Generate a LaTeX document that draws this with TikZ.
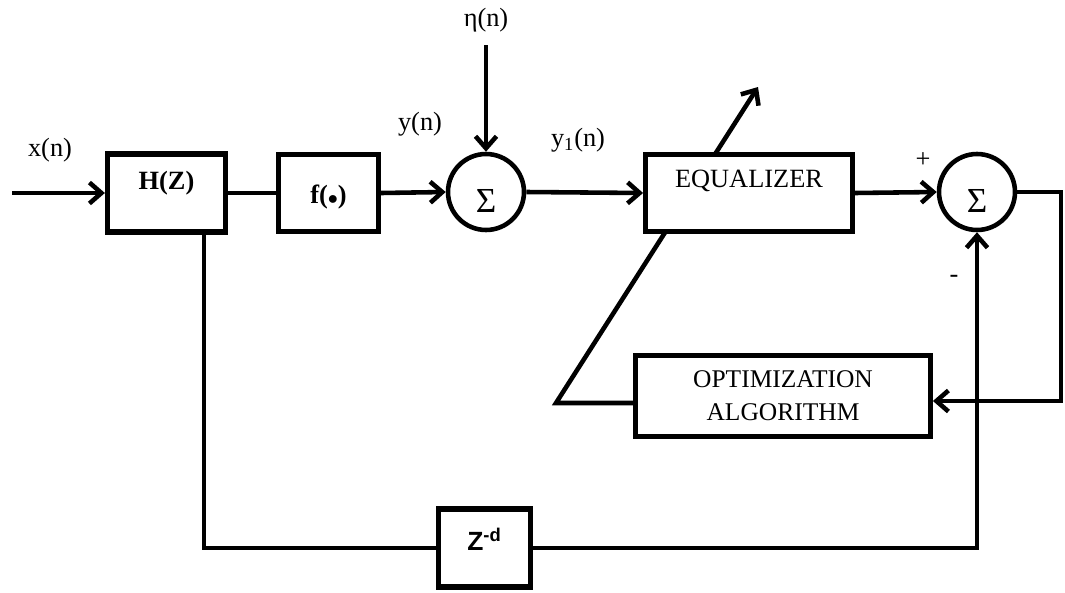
\documentclass[tikz,border=0pt]{standalone}
\usepackage{fontspec}
\setmainfont{Liberation Serif}
\newfontfamily\arialfont{Liberation Sans}
\usetikzlibrary{arrows.meta,backgrounds}
\begin{document}
\begin{tikzpicture}[x=0.02cm,y=-0.02cm,line width=2.6pt,
  font=\fontsize{15}{17}\selectfont,
  arr/.style={-{Straight Barb[length=0.24cm,width=0.42cm,line width=2.6pt]}},
  blk/.style={draw,fill=white,line width=3pt,inner sep=0pt},
  sumnode/.style={draw,fill=white,circle,minimum size=1.52cm,inner sep=0pt,line width=2.6pt},
  lbl/.style={inner sep=0pt}]
\useasboundingbox (0,0) rectangle (1065,592);

% blocks
\node[blk,minimum width=2.36cm,minimum height=1.56cm,
  label={[lbl,font=\fontsize{15}{17}\selectfont\bfseries,yshift=0.2cm]center:H(Z)}] (H) at (166.5,193) {};
\node[blk,minimum width=2.0cm,minimum height=1.54cm,
  label={[lbl,font=\fontsize{15}{17}\selectfont\bfseries,yshift=-0.08cm]center:f(\raisebox{-0.5pt}{\scalebox{0.8}{$\bullet$}})}] (F) at (328.5,193) {};
\node[sumnode,label={[lbl,font=\fontsize{20}{22}\selectfont,yshift=-0.17cm]center:Σ}] (S1) at (486,192) {};
\node[blk,minimum width=4.14cm,minimum height=1.54cm,line width=2.8pt,
  label={[lbl,yshift=0.24cm]center:EQUALIZER}] (EQ) at (749,193) {};
\node[sumnode,label={[lbl,font=\fontsize{20}{22}\selectfont,yshift=-0.17cm]center:Σ}] (S2) at (977,192) {};
\node[blk,minimum width=5.9cm,minimum height=1.62cm,align=center,line width=2.8pt,
  font=\fontsize{14.5}{18.7}\selectfont] (OPT) at (783,396) {OPTIMIZATION\\ALGORITHM};
\node[blk,minimum width=1.84cm,minimum height=1.56cm,
  label={[lbl,font=\arialfont\bfseries\fontsize{15}{17}\selectfont,yshift=0.18cm]center:Z\textsuperscript{-d}}] (ZD) at (484.5,548) {};

% coordinates
\coordinate (IN) at (12,193);
\coordinate (ETA) at (486,45);
\coordinate (HD) at (204,548);
\coordinate (R) at (1061,401);
\coordinate (C) at (556,403);
\coordinate (TIP) at (758,87);

% labels
\node[lbl] (LX) at (50,150) {x(n)};
\node[lbl] (LY) at (420,124) {y(n)};
\node[lbl] (LY1) at (578,140) {y\textsubscript{1}(n)};
\node[lbl] (LETA) at (486,20) {η(n)};
\node[lbl] (LP) at (923,160) {+};
\node[lbl] (LM) at (954,279) {-};

% connectors
\draw[arr] (IN) -- (H.west);
\draw (H.east) -- (F.west);
\draw[arr] (F.east) -- (S1.west);
\draw[arr] (ETA) -- (S1.north);
\draw[arr] (S1.east) -- (EQ.west);
\draw[arr] (EQ.east) -- (S2.west);
\draw[arr] (S2.east) -| (R) -- (R -| OPT.east);
\draw (H.south -| HD) -- (HD) -- (ZD.west);
\draw[arr] (ZD.east) -| (S2.south);
\begin{scope}[on background layer]
\draw[arr,line width=2.6pt,line join=miter] (OPT.west |- C) -- (C) -- (TIP);
\end{scope}
\end{tikzpicture}
\end{document}
